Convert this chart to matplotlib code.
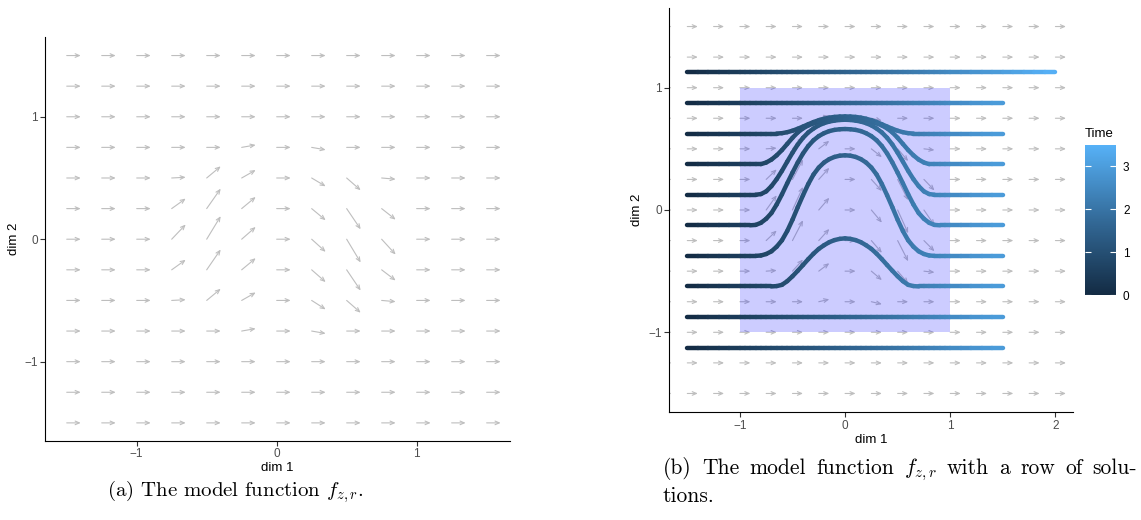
import numpy as np
import matplotlib
matplotlib.use("Agg")
import matplotlib.pyplot as plt
from matplotlib.patches import FancyArrowPatch, Rectangle
from matplotlib.collections import LineCollection
from matplotlib.colors import LinearSegmentedColormap, Normalize
from matplotlib.cm import ScalarMappable

plt.rcParams['font.family'] = ['Liberation Sans', 'DejaVu Sans']
plt.rcParams['mathtext.fontset'] = 'cm'

# ---- vector field f_{z,r}: arrows are 0.1 * (1, g) at each grid point ----
field_x = [-1.75, -1.5, -1.25, -1.0, -0.75, -0.5, -0.25, 0.0, 0.25, 0.5, 0.75,
           1.0, 1.25, 1.5, 1.75, 2.0]
field_y = [-1.5, -1.25, -1.0, -0.75, -0.5, -0.25, 0.0, 0.25, 0.5, 0.75,
           1.0, 1.25, 1.5]
arrow_dx = 0.1
# vertical arrow component, only non-zero inside this block
bump_x = [-0.75, -0.5, -0.25, 0.0, 0.25, 0.5, 0.75]
bump_y = [0.75, 0.5, 0.25, 0.0, -0.25, -0.5, -0.75]
bump_dy = [
    [0.0,   0.0,   0.020, 0.0, -0.020,  0.0,    0.0],
    [0.006, 0.095, 0.065, 0.0, -0.068, -0.100, -0.010],
    [0.082, 0.163, 0.095, 0.0, -0.095, -0.169, -0.090],
    [0.120, 0.188, 0.100, 0.0, -0.103, -0.190, -0.125],
    [0.082, 0.166, 0.095, 0.0, -0.100, -0.169, -0.087],
    [0.006, 0.095, 0.065, 0.0, -0.073, -0.100, -0.010],
    [0.0,   0.0,   0.020, 0.0, -0.020,  0.0,    0.0],
]

# ---- solutions (dim 1 runs with unit speed, so time = x + 1.5) ----
traj_x = [-1.5, -1.4, -1.3, -1.2, -1.1,
          -1.0, -0.95, -0.9, -0.85, -0.8, -0.75, -0.7, -0.65, -0.6, -0.55,
          -0.5, -0.45, -0.4, -0.35, -0.3, -0.25, -0.2, -0.15, -0.1, -0.05,
          0.0, 0.05, 0.1, 0.15, 0.2, 0.25, 0.3, 0.35, 0.4, 0.45,
          0.5, 0.55, 0.6, 0.65, 0.7, 0.75, 0.8, 0.85, 0.9, 0.95, 1.0,
          1.1, 1.2, 1.3, 1.4, 1.5]
top_x = traj_x + [1.6, 1.7, 1.8, 1.9, 2.0]

sol_1125 = [1.125] * 56
sol_0875 = [0.875] * 51
sol_0625 = ([0.625] * 13
            + [0.628, 0.636, 0.648, 0.664, 0.682, 0.701, 0.719, 0.734, 0.746,
               0.755, 0.761, 0.764, 0.765,
               0.764, 0.761, 0.755, 0.746, 0.734, 0.719, 0.701, 0.682, 0.664,
               0.648, 0.636, 0.628]
            + [0.625] * 13)
sol_0375 = ([0.375] * 10
            + [0.388, 0.412, 0.447, 0.490, 0.540, 0.590, 0.634, 0.667, 0.691,
               0.708, 0.722, 0.733, 0.741, 0.747, 0.751, 0.752,
               0.751, 0.747, 0.741, 0.733, 0.722, 0.708, 0.691, 0.667, 0.634,
               0.590, 0.540, 0.490, 0.447, 0.412, 0.388]
            + [0.375] * 10)
sol_0125 = ([0.125] * 9
            + [0.130, 0.152, 0.195, 0.252, 0.320, 0.395, 0.468, 0.535, 0.590,
               0.634, 0.666, 0.692, 0.710, 0.723, 0.731, 0.736, 0.738,
               0.736, 0.731, 0.723, 0.710, 0.692, 0.666, 0.634, 0.590, 0.535,
               0.468, 0.395, 0.320, 0.252, 0.195, 0.152, 0.130]
            + [0.125] * 9)
sol_m0125 = ([-0.125] * 8
             + [-0.122, -0.105, -0.072, -0.025, 0.045, 0.128, 0.218, 0.305,
                0.388, 0.462, 0.523, 0.570, 0.604, 0.628, 0.645, 0.655, 0.660,
                0.662,
                0.660, 0.655, 0.645, 0.628, 0.604, 0.570, 0.523, 0.462, 0.388,
                0.305, 0.218, 0.128, 0.045, -0.025, -0.072, -0.105, -0.122]
             + [-0.125] * 8)
sol_m0375 = ([-0.375] * 9
             + [-0.372, -0.360, -0.338, -0.300, -0.248, -0.172, -0.080, 0.022,
                0.120, 0.212, 0.290, 0.347, 0.388, 0.416, 0.434, 0.444, 0.447,
                0.444, 0.434, 0.416, 0.388, 0.347, 0.290, 0.212, 0.120, 0.022,
                -0.080, -0.172, -0.248, -0.300, -0.338, -0.360, -0.372]
             + [-0.375] * 9)
sol_m0625 = ([-0.625] * 12
             + [-0.622, -0.612, -0.582, -0.542, -0.497, -0.450, -0.402, -0.357,
                -0.318, -0.288, -0.263, -0.246, -0.236, -0.232,
                -0.236, -0.246, -0.263, -0.288, -0.318, -0.357, -0.402, -0.450,
                -0.497, -0.542, -0.582, -0.612, -0.622]
             + [-0.625] * 12)
sol_m0875 = [-0.875] * 51
sol_m1125 = [-1.125] * 51
solutions = [(top_x, sol_1125), (traj_x, sol_0875), (traj_x, sol_0625),
             (traj_x, sol_0375), (traj_x, sol_0125), (traj_x, sol_m0125),
             (traj_x, sol_m0375), (traj_x, sol_m0625), (traj_x, sol_m0875),
             (traj_x, sol_m1125)]
time_max = 3.5

W, H = 1141, 520
fig = plt.figure(figsize=(W / 100, H / 100), dpi=100)

tick_kw = dict(labelsize=8.5, labelcolor='#4D4D4D', color='#333333',
               length=3.3, width=0.8, pad=2)
arrow_col = '#BEBEBE'
cmap = LinearSegmentedColormap.from_list('gg', ['#132B43', '#336A98', '#56B1F7'])
norm = Normalize(0, time_max)


def field_dy(x, y):
    if x in bump_x and y in bump_y:
        return bump_dy[bump_y.index(y)][bump_x.index(x)]
    return 0.0


def draw_field(ax, xs):
    for x in xs:
        for y in field_y:
            a = FancyArrowPatch((x, y), (x + arrow_dx, y + field_dy(x, y)),
                                arrowstyle='->,head_length=0.3,head_width=0.13',
                                mutation_scale=10, color=arrow_col, lw=0.8,
                                shrinkA=0, shrinkB=0, zorder=1)
            ax.add_patch(a)


def style_axes(ax):
    for s in ['top', 'right']:
        ax.spines[s].set_visible(False)
    for s in ['left', 'bottom']:
        ax.spines[s].set_linewidth(0.8)
        ax.spines[s].set_color('black')
    ax.tick_params(**tick_kw)


# ---- panel (a) ----
ax1 = fig.add_axes([45.3 / W, 1 - 441 / H, (510 - 45.3) / W, (441 - 37.3) / H])
draw_field(ax1, [x for x in field_x if -1.5 <= x <= 1.5])
ax1.set_xlim(-1.653, 1.667)
ax1.set_ylim(-1.648, 1.649)
ax1.set_xticks([-1, 0, 1])
ax1.set_yticks([-1, 0, 1])
style_axes(ax1)
fig.text(277.6 / W, 1 - 468 / H, 'dim 1', ha='center', va='center', fontsize=9.5)
fig.text(14 / W, 1 - 239 / H, 'dim 2', ha='center', va='center', fontsize=9.5,
         rotation=90)

# ---- panel (b) ----
ax2 = fig.add_axes([669.3 / W, 1 - 412.3 / H, (1073.3 - 669.3) / W, (412.3 - 8.3) / H])
draw_field(ax2, field_x)
ax2.add_patch(Rectangle((-1, -1), 2, 2, facecolor='blue', alpha=0.2,
                        edgecolor='none', zorder=2))
for xs, ys in solutions:
    pts = np.column_stack([xs, ys])
    segs = np.stack([pts[:-1], pts[1:]], axis=1)
    t = (np.array(xs[:-1]) + np.array(xs[1:])) / 2 + 1.5
    lc = LineCollection(segs, cmap=cmap, norm=norm, linewidths=3.2,
                        capstyle='round', joinstyle='round', zorder=3)
    lc.set_array(t)
    ax2.add_collection(lc)
ax2.set_xlim(-1.671, 2.17)
ax2.set_ylim(-1.654, 1.649)
ax2.set_xticks([-1, 0, 1, 2])
ax2.set_yticks([-1, 0, 1])
style_axes(ax2)
fig.text(871 / W, 1 - 440 / H, 'dim 1', ha='center', va='center', fontsize=9.5)
fig.text(637 / W, 1 - 210 / H, 'dim 2', ha='center', va='center', fontsize=9.5,
         rotation=90)

# ---- colour bar ----
cax = fig.add_axes([1085 / W, 1 - 295 / H, 31 / W, 150 / H])
cb = fig.colorbar(ScalarMappable(norm=norm, cmap=cmap), cax=cax)
cb.set_ticks([0, 1, 2, 3])
cb.outline.set_visible(False)
cax.tick_params(axis='y', direction='in', color='white', length=4.5, width=0.8,
                left=True, right=True, labelsize=8.5, labelcolor='black', pad=5)
fig.text(1085 / W, 1 - 137 / H, 'Time', ha='left', va='baseline', fontsize=9.5)

# ---- captions ----
fig.text(235 / W, 1 - 496 / H, r'(a) The model function $f_{z,r}$.', ha='center',
         family='cmr10', fontsize=15.0, va='baseline')

cap_kw = dict(family='cmr10', fontsize=15.5, va='baseline')
words = ['(b)', 'The', 'model', 'function', r'$f_{z,r}$', 'with', 'a', 'row', 'of', 'solu-']
x0, x1 = 663, 1137
r = fig.canvas.get_renderer()
texts = [fig.text(0, 1 - 474 / H, w, ha='left', **cap_kw) for w in words]
widths = [tx.get_window_extent(r).width for tx in texts]
gap = (x1 - x0 - sum(widths)) / (len(words) - 1)
xpos = x0
for tx, w in zip(texts, widths):
    tx.set_x(xpos / W)
    xpos += w + gap
fig.text(x0 / W, 1 - 502 / H, 'tions.', ha='left', **cap_kw)

fig.savefig('out.png', dpi=100)
